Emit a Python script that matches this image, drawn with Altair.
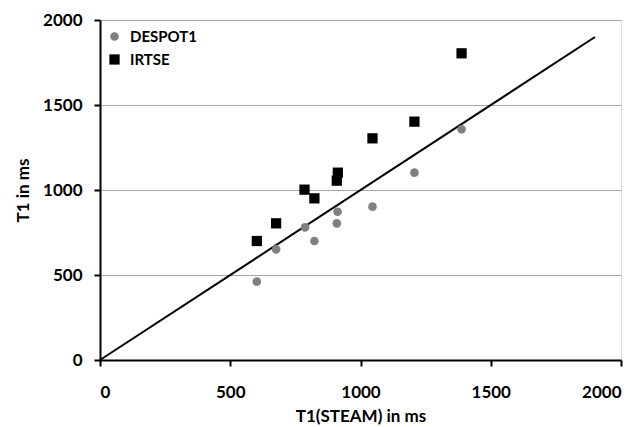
import altair as alt
import pandas as pd

steam = [602, 676, 787, 823, 909, 912, 1046, 1207, 1388]
despot1 = [461, 651, 780, 700, 804, 872, 902, 1102, 1357]
steam_irtse = [602, 676, 785, 823, 909, 913, 1046, 1207, 1388]
irtse = [700, 804, 1002, 951, 1055, 1102, 1304, 1402, 1804]
series = ["DESPOT1", "IRTSE"]
line_x = [0, 1900]
line_y = [0, 1900]
ticks = [0, 500, 1000, 1500, 2000]

rows = []
for x, y in zip(steam, despot1):
    rows.append({"steam": x, "t1": y, "method": series[0]})
for x, y in zip(steam_irtse, irtse):
    rows.append({"steam": x, "t1": y, "method": series[1]})
df = pd.DataFrame(rows)
line_df = pd.DataFrame({"steam": line_x, "t1": line_y})

FONT = "Lato"

xscale = alt.Scale(domain=[0, 2000], nice=False)
yscale = alt.Scale(domain=[0, 2000], nice=False)

points = alt.Chart(df).mark_point(filled=True, opacity=1).encode(
    x=alt.X("steam:Q", scale=xscale,
            axis=alt.Axis(title="T1(STEAM) in ms", values=ticks, format="d",
                          grid=False, domainColor="black", domainWidth=2,
                          tickColor="black", tickWidth=2, tickSize=6,
                          labelPadding=18, labelFont=FONT, labelFontSize=17,
                          labelFontWeight="bold", labelColor="black",
                          titleFont=FONT, titleFontSize=17, titleFontWeight="bold",
                          titleColor="black", titleY=56, titleBaseline="middle")),
    y=alt.Y("t1:Q", scale=yscale,
            axis=alt.Axis(title="T1 in ms", values=ticks, format="d",
                          grid=True, gridColor="#a6a6a6", gridWidth=1,
                          domainColor="black", domainWidth=2,
                          tickColor="black", tickWidth=2, tickSize=6,
                          labelPadding=12, labelFont=FONT, labelFontSize=17,
                          labelFontWeight="bold", labelColor="black",
                          titleFont=FONT, titleFontSize=17, titleFontWeight="bold",
                          titleColor="black", titleX=-77, titleY=170,
                          titleAlign="center", titleBaseline="middle", titleAngle=-90)),
    color=alt.Color("method:N", scale=alt.Scale(domain=series, range=["#808080", "#000000"]),
                    legend=alt.Legend(title=None, orient="none", legendX=7, legendY=9,
                                      labelFont=FONT, labelFontSize=15, labelFontWeight="bold",
                                      labelColor="black", symbolSize=50, rowPadding=7,
                                      symbolStrokeWidth=0, labelOffset=8)),
    shape=alt.Shape("method:N", scale=alt.Scale(domain=series, range=["circle", "square"]),
                    legend=None),
    size=alt.Size("method:N", scale=alt.Scale(domain=series, range=[75, 105]), legend=None),
)

line = alt.Chart(line_df).mark_line(color="black", strokeWidth=2).encode(
    x=alt.X("steam:Q", scale=xscale),
    y=alt.Y("t1:Q", scale=yscale),
)

chart = alt.layer(line, points).properties(
    width=521, height=340,
    autosize=alt.AutoSizeParams(type="none"),
    padding={"left": 92, "top": 12, "right": 12, "bottom": 67},
).configure_view(stroke=None).configure(background="white")

chart.save("out.html", embed_options={"renderer": "svg", "actions": False})
